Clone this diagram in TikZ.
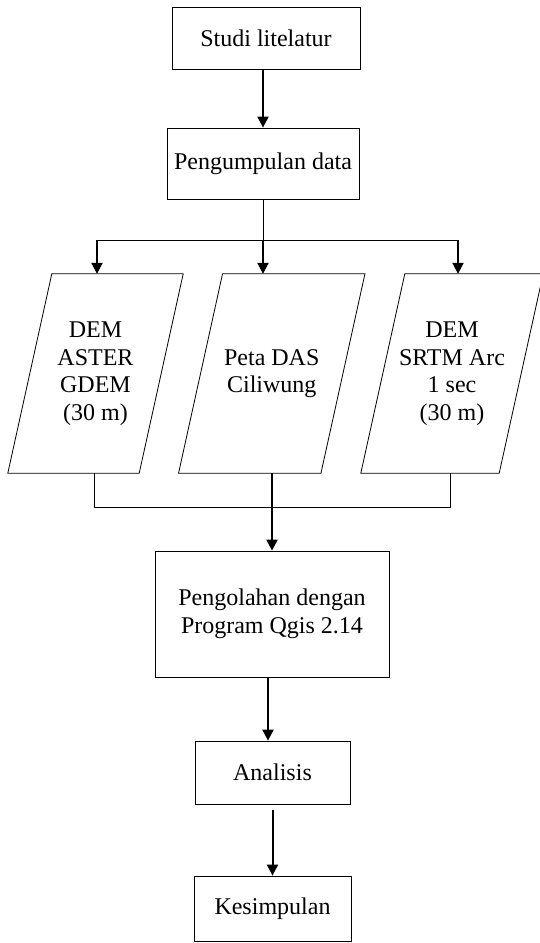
\documentclass[tikz,border=0pt]{standalone}
\usepackage{fontspec}
\setmainfont{Liberation Serif}
\usetikzlibrary{arrows.meta,calc}
\begin{document}
\begin{tikzpicture}[x=1pt,y=-1pt,
  every node/.style={font=\fontsize{24}{27.6}\selectfont, align=center, inner sep=0pt},
  box/.style={draw, line width=0.8pt, minimum width=#1},
  para/.style={draw=none},
  thin/.style={line width=0.8pt},
  arr/.style={line width=2pt, -{Triangle[width=11pt,length=11pt]}}]
\useasboundingbox (0,0) rectangle (540,943);
% rectangles
\node[box=188pt, minimum height=62pt] (s1) at (266,38) {Studi litelatur};
\node[box=192pt, minimum height=71pt] (s2) at (263,163.5) {Pengumpulan data};
\node[box=234pt, minimum height=126pt] (s3) at (272,614) {Pengolahan dengan\\Program Qgis 2.14};
\node[box=155pt, minimum height=63pt] (s4) at (272.5,772.5) {Analisis};
\node[box=157pt, minimum height=65pt] (s5) at (272.5,908.5) {Kesimpulan};
% parallelograms (text nodes + outlines)
\node[para, minimum width=131pt, minimum height=199pt] (p1) at (95.5,373.5) {DEM\\ASTER\\GDEM\\(30 m)};
\node[para, minimum width=142pt, minimum height=199pt] (p2) at (271.75,373.5) {Peta DAS\\Ciliwung};
\node[para, minimum width=138pt, minimum height=199pt] (p3) at (452,373.5) {DEM\\SRTM Arc\\1 sec\\(30 m)};
\foreach \p in {p1,p2,p3}{
  \draw[thin] ($(\p.north west)+(22,0)$) -- ($(\p.north east)+(22,0)$)
    -- ($(\p.south east)+(-22,0)$) -- ($(\p.south west)+(-22,0)$) -- cycle;
}
% top connectors
\draw[arr] (s1.south -| s2.north) -- (s2.north);
\coordinate (bus) at (263,240);
\coordinate (busL) at (97,240);
\coordinate (busR) at (458,240);
\draw[thin] (s2.south) -- (bus);
\draw[thin] (busL) -- (busR);
\draw[arr] (busL) -- (busL |- p1.north);
\draw[arr] (bus) -- (bus |- p2.north);
\draw[arr] (busR) -- (busR |- p3.north);
% bottom connectors
\coordinate (jL) at (94,507);
\coordinate (jR) at (450,507);
\draw[thin] (jL |- p1.south) -- (jL) -- (jR) -- (jR |- p3.south);
\draw[arr] (p2.south -| s3.north) -- (s3.north);
\draw[arr] (268,677) coordinate (a1) -- (a1 |- s4.north);
\draw[arr] ($(s4.south)+(0,6)$) -- (s5.north);
\end{tikzpicture}
\end{document}
